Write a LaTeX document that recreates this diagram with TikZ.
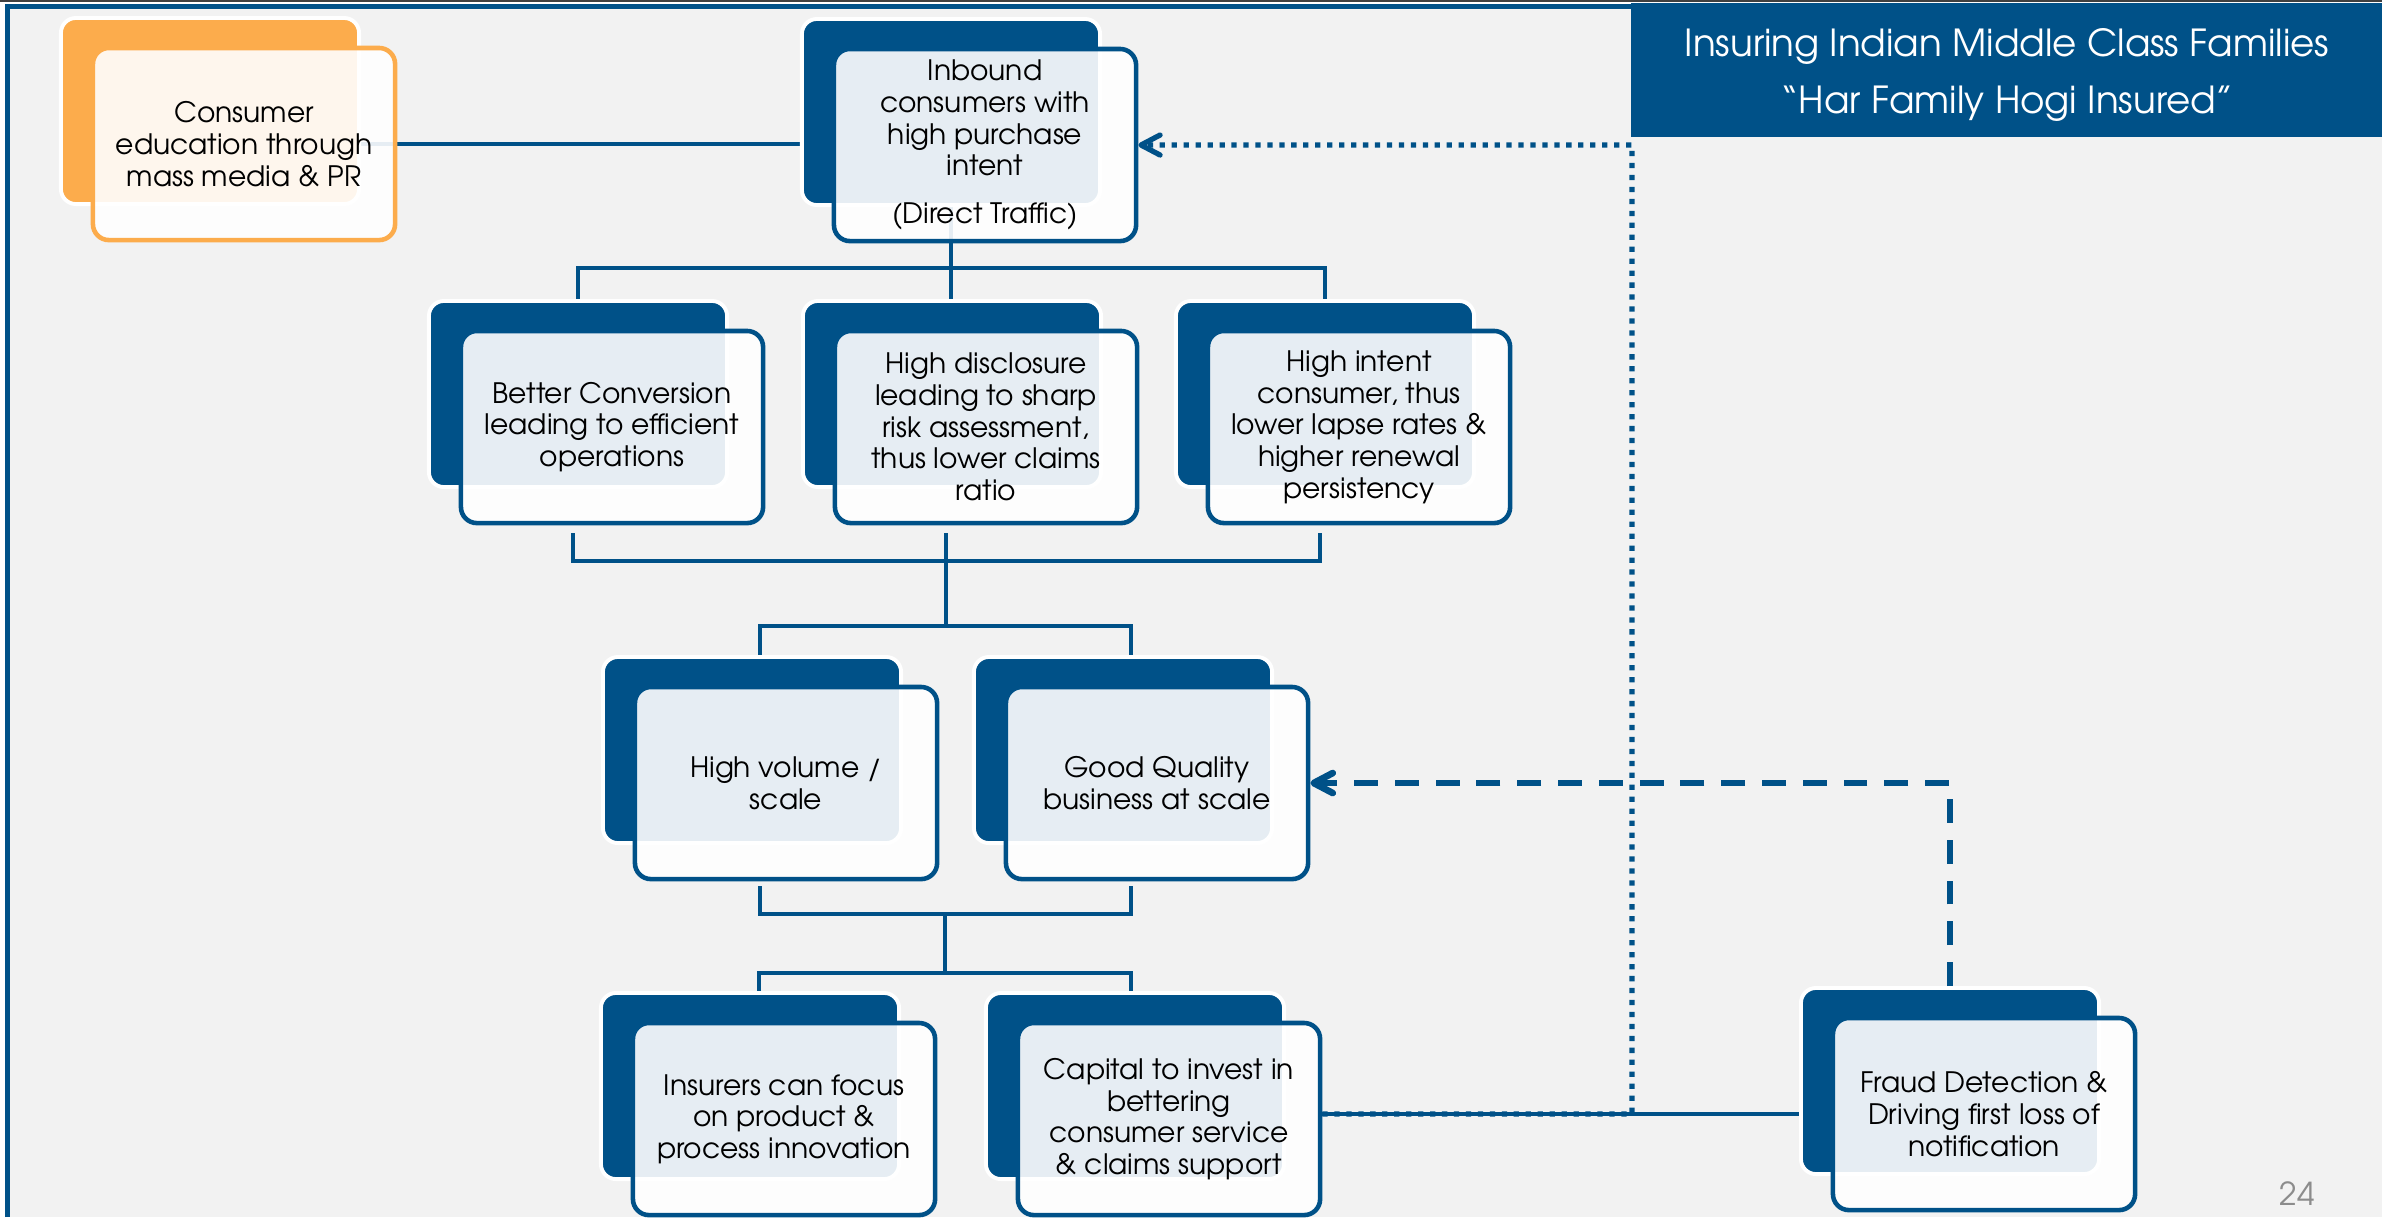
\documentclass[tikz,border=0pt]{standalone}
\usepackage{fontspec}
\setmainfont{texgyreadventor}[Extension=.otf,UprightFont=*-regular,BoldFont=*-bold,ItalicFont=*-italic,BoldItalicFont=*-bolditalic]
\usetikzlibrary{arrows.meta,calc,backgrounds}
\definecolor{ublue}{RGB}{0,81,136}
\definecolor{uorange}{RGB}{252,172,76}
\definecolor{bggray}{RGB}{242,242,242}
\definecolor{numgray}{RGB}{140,140,140}

\begin{document}
\begin{tikzpicture}
[%%%%%%%%%%%%%%%%%%%%%%%%%%%%%%
x=0.01cm,y=-0.01cm,
backbox/.style={rectangle,rounded corners=0.15cm,fill=ublue,draw=white,line width=1.1pt,minimum width=2.98cm,minimum height=1.86cm},
frontbox/.style={rectangle,rounded corners=0.16cm,fill=white,fill opacity=0.9,text opacity=1,draw=ublue,line width=1.3pt,minimum width=3.02cm,minimum height=1.92cm,align=center,inner sep=1pt,font=\fontsize{8}{9}\selectfont},
obackbox/.style={backbox,fill=uorange},
ofrontbox/.style={frontbox,draw=uorange},
link/.style={draw=ublue,line width=1.35pt},
dotlink/.style={link,line width=1.5pt,dash pattern=on 1.5pt off 1.9pt,-{Straight Barb[length=0.19cm,width=0.2cm,round]}},
dashlink/.style={link,line width=1.9pt,dash pattern=on 6.8pt off 4.8pt,-{Straight Barb[length=0.19cm,width=0.2cm,round]}},
titlebox/.style={rectangle,fill=ublue,minimum width=7.52cm,minimum height=1.33cm},
titletext/.style={text=white,align=center,font=\fontsize{10.6}{16.4}\selectfont},
pagenum/.style={text=numgray,font=\fontsize{9}{10}\selectfont},
]%%%%%%%%%%%%%%%%%%%%%%%%%%%%%%

\useasboundingbox (0,0) rectangle (2382,1217);
\begin{scope}[on background layer]
\fill[white] (0,0) rectangle (2382,1217);
\fill[bggray] (7,7) rectangle (2382,1217);
\draw[ublue,line width=1.4pt] (7.5,1217) -- (7.5,6.7) -- (2382,6.7);
\draw[black!75,line width=0.6pt] (0,1) -- (2382,1);
\end{scope}

% back boxes
\node[obackbox] (b-edu) at (210,111){};
\node[backbox] (b-inb) at (951,112){};
\node[backbox] (b-conv) at (578,394){};
\node[backbox] (b-disc) at (952,394){};
\node[backbox] (b-intent) at (1325,394){};
\node[backbox] (b-vol) at (752,750){};
\node[backbox] (b-qual) at (1123,750){};
\node[backbox] (b-focus) at (750,1086){};
\node[backbox] (b-cap) at (1135,1086){};
\node[backbox] (b-fraud) at (1950,1081){};

% front boxes
\node[ofrontbox] (f-edu) at ([xshift=.34cm,yshift=-.33cm]b-edu){Consumer\\education through\\mass media \& PR};
\node[frontbox] (f-inb) at ([xshift=.34cm,yshift=-.33cm]b-inb){Inbound\\consumers with\\high purchase\\intent\\[0.16cm](Direct Traffic)};
\node[frontbox] (f-conv) at ([xshift=.34cm,yshift=-.33cm]b-conv){Better Conversion\\leading to efficient\\operations};
\node[frontbox] (f-disc) at ([xshift=.34cm,yshift=-.33cm]b-disc){High disclosure\\leading to sharp\\risk assessment,\\thus lower claims\\ratio};
\node[frontbox] (f-intent) at ([xshift=.34cm,yshift=-.33cm]b-intent){High intent\\consumer, thus\\lower lapse rates \&\\higher renewal\\persistency};
\node[frontbox] (f-vol) at ([xshift=.34cm,yshift=-.33cm]b-vol){High volume /\\scale};
\node[frontbox] (f-qual) at ([xshift=.34cm,yshift=-.33cm]b-qual){Good Quality\\business at scale};
\node[frontbox] (f-focus) at ([xshift=.34cm,yshift=-.33cm]b-focus){Insurers can focus\\on product \&\\process innovation};
\node[frontbox] (f-cap) at ([xshift=.34cm,yshift=-.33cm]b-cap){Capital to invest in\\bettering\\consumer service\\\& claims support};
\node[frontbox] (f-fraud) at ([xshift=.34cm,yshift=-.33cm]b-fraud){Fraud Detection \&\\Driving first loss of\\notification};

\node[titlebox] (title) at (2007,70){};
\node[titletext] (title-t) at ([yshift=-.05cm]title){Insuring Indian Middle Class Families\\“Har Family Hogi Insured”};
\node[pagenum] (page) at (2297,1194){24};

% junctions
\coordinate (j1) at (951,268);
\coordinate (j2) at (946,561);
\coordinate (j3) at (946,626);
\coordinate (j4) at (945,914);
\coordinate (j5) at (945,973);
\coordinate (c-dot) at (1632,145);

\begin{scope}[on background layer]
\draw[link] (b-edu.east |- f-edu.west) -- (b-inb.west |- f-edu.west);
\draw[link] (b-inb.south) -- (j1);
\draw[link] (b-conv.north) |- (j1) -| (b-intent.north);
\draw[link] (j1) -- (j1 |- b-disc.north);
\draw[link] ($(b-conv.south |- f-conv.south)+(-5,8)$) |- (j2) -| ($(b-intent.south |- f-intent.south)+(-5,8)$);
\draw[link] ($(b-disc.south |- f-disc.south)+(-6,8)$) -- (j3);
\draw[link] ($(b-vol.north)+(8,0)$) |- (j3) -| ($(b-qual.north)+(8,0)$);
\draw[link] ($(b-vol.south |- f-vol.south)+(8,5)$) |- (j4) -| ($(b-qual.south |- f-qual.south)+(8,5)$);
\draw[link] (j4) -- (j5);
\draw[link] ($(b-focus.north)+(9,0)$) |- (j5) -| ($(b-cap.north)+(-4,0)$);
\draw[link] (f-cap.east |- f-fraud.west) -- (b-fraud.west |- f-fraud.west);
\end{scope}

\draw[dotlink] (f-cap.east |- f-fraud.west) -| (c-dot) -- (f-inb.east);
\draw[dashlink] (b-fraud.north) |- (f-qual.east);
\end{tikzpicture}
\end{document}
